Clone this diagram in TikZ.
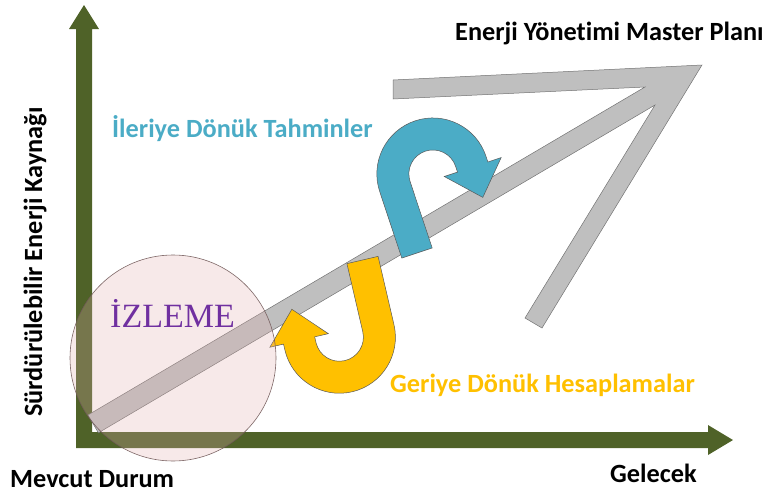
\documentclass[tikz,border=0pt]{standalone}
\usepackage{fontspec}
\setmainfont{Carlito}[Ligatures=NoCommon]
\newfontfamily\titleserif{Liberation Serif}
\definecolor{axisgreen}{HTML}{4F6228}
\definecolor{arrowgray}{HTML}{BFBFBF}
\definecolor{forecastblue}{HTML}{4BACC6}
\definecolor{backyellow}{HTML}{FFC000}
\definecolor{monitorpink}{HTML}{E0AFAE}
\definecolor{monitorpurple}{HTML}{7030A0}
\tikzset{
  axisbody/.style={fill=axisgreen, draw=none},
  planarrow/.style={fill=arrowgray, draw=black!55, line width=0.5pt, line join=miter},
  uturn/.style={draw=black!65, line width=0.5pt, line join=miter},
  label/.style={inner sep=0pt, anchor=base west, font=\bfseries\fontsize{26.3}{31}\selectfont},
}
% U-turn arrow outline in its own frame: leg from (0,0) upwards, bend to the right, head pointing back down
\newcommand{\uturnpath}{(-16,0) -- (16,0) -- (16,70) arc[start angle=180, end angle=0, radius=24]
  -- (64,64) -- (50,64) -- (80,32) -- (110,64) -- (96,64) -- (96,70)
  arc[start angle=0, end angle=180, radius=56] -- cycle}
\begin{document}
\begin{tikzpicture}[x=1pt, y=-1pt]
\useasboundingbox (0,0) rectangle (764,496);

% axes
\fill[axisbody] (76,448) -- (76,29) -- (69,29) -- (84,5) -- (99,29) -- (92,29) -- (92,432)
  -- (708,432) -- (708,425) -- (733,440) -- (708,455) -- (708,448) -- cycle;

% open-headed growth arrow towards the master plan
\draw[planarrow] (88,415) -- (645,87) -- (393,99) -- (393,80) -- (702,65) -- (542,328)
  -- (525,318) -- (655,105) -- (98.4,432.8) -- cycle;

% forward-looking and backward-looking U-turn arrows
\coordinate (blueorigin) at (417,253);
\coordinate (yelloworigin) at (362.5,260);
\begin{scope}[shift={(blueorigin)}, rotate=18.4, x=1pt, y=1pt]
  \draw[uturn, fill=forecastblue] \uturnpath;
\end{scope}
\begin{scope}[shift={(yelloworigin)}, rotate=193.1, x=1pt, y=1pt]
  \draw[uturn, fill=backyellow] \uturnpath;
\end{scope}

% monitoring circle
\node[circle, minimum size=206pt, inner sep=0pt, fill=monitorpink, fill opacity=0.27,
  draw=black!50!monitorpink, draw opacity=0.9, line width=0.6pt] (izleme) at (173,358) {};
\node[inner sep=0pt, anchor=base west, text=monitorpurple,
  font=\titleserif\fontsize{34}{40}\selectfont] (izlemetext) at (110,327) {İZLEME};

% labels
\node[label] (plan) at (455,40) {Enerji Yönetimi Master Planı};
\node[label, text=forecastblue] (ileri) at (112,137) {İleriye Dönük Tahminler};
\node[label, text=backyellow] (geri) at (390,392) {Geriye Dönük Hesaplamalar};
\node[label] (mevcut) at (10,487) {Mevcut Durum};
\node[label] (gelecek) at (610,482) {Gelecek};
\node[label, rotate=90] (kaynak) at (42,417) {Sürdürülebilir Enerji Kaynağı};
\end{tikzpicture}
\end{document}
